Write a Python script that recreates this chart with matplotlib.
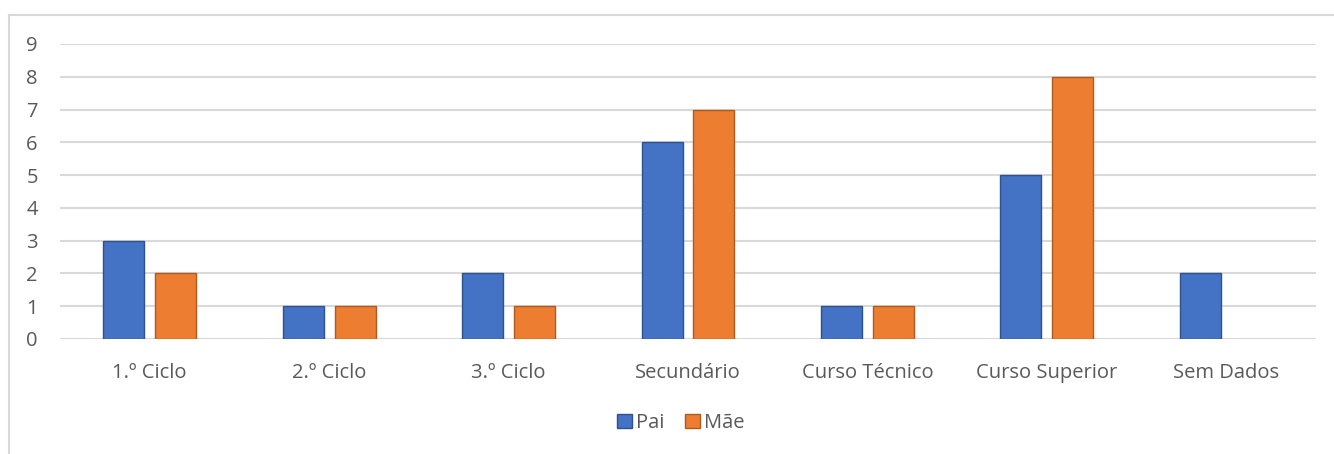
import numpy as np
import matplotlib.pyplot as plt
from matplotlib.lines import Line2D

plt.rcParams['font.family'] = ['Open Sans', 'DejaVu Sans']

categorias = ['1.º Ciclo', '2.º Ciclo', '3.º Ciclo', 'Secundário',
              'Curso Técnico', 'Curso Superior', 'Sem Dados']
pai = [3, 1, 2, 6, 1, 5, 2]
mae = [2, 1, 1, 7, 1, 8, 0]
y_ticks = list(range(0, 10))

cor_texto = '#595959'
cor_grelha = '#D9D9D9'

fig = plt.figure(figsize=(13.34, 4.54), dpi=100)
ax = fig.add_axes([60 / 1334, 115 / 454, 1256 / 1334, 295 / 454])

x = np.arange(len(categorias))
w = 0.229
gap = 0.06
ax.bar(x - (w + gap) / 2, pai, w, color='#4472C4', edgecolor='#2F528F',
       linewidth=1, label='Pai', zorder=3)
mae_plot = [v if v > 0 else np.nan for v in mae]
ax.bar(x + (w + gap) / 2, mae_plot, w, color='#ED7D31', edgecolor='#AE5A21',
       linewidth=1, label='Mãe', zorder=3)

ax.set_xlim(-0.5, len(categorias) - 0.5)
ax.set_ylim(0, 9)
ax.set_yticks(y_ticks)
ax.set_xticks(x)
ax.set_xticklabels(categorias)
ax.yaxis.grid(True, color=cor_grelha, linewidth=1.5, zorder=0)
ax.set_axisbelow(True)
for s in ax.spines.values():
    s.set_visible(False)
ax.tick_params(axis='both', length=0, labelsize=14.5, labelcolor=cor_texto)
ax.tick_params(axis='y', pad=16)
ax.tick_params(axis='x', pad=17)

leg = fig.legend(loc='center', bbox_to_anchor=(681 / 1334, 1 - 423 / 454),
                 ncol=2, frameon=False, fontsize=14.5, handlelength=0.75,
                 handleheight=0.75, handletextpad=0.2, columnspacing=1.0)
for t in leg.get_texts():
    t.set_color(cor_texto)

# moldura do gráfico (cortada à direita e em baixo)
fig.add_artist(Line2D([8.5 / 1334, 8.5 / 1334], [0, 1 - 15 / 454],
                      transform=fig.transFigure, color=cor_grelha, linewidth=1.5))
fig.add_artist(Line2D([8.5 / 1334, 1], [1 - 15 / 454, 1 - 15 / 454],
                      transform=fig.transFigure, color=cor_grelha, linewidth=1.5))

fig.savefig('out.png', dpi=100)
